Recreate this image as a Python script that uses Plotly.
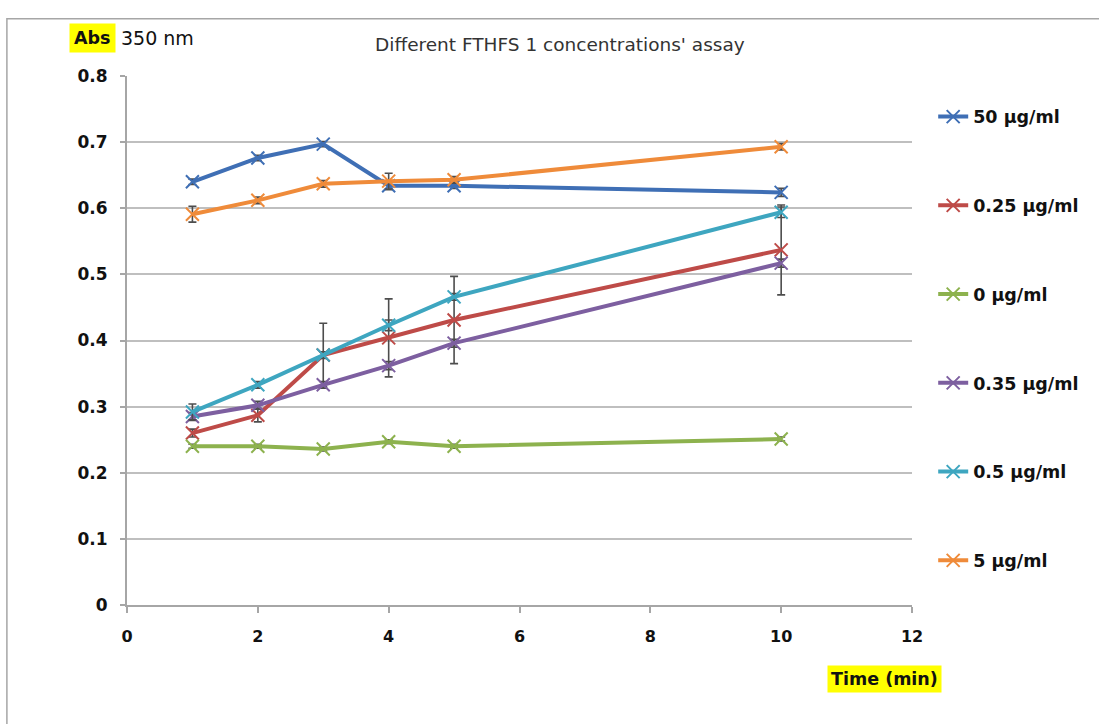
import plotly.graph_objects as go

time_min = [1, 2, 3, 4, 5, 10]

series_names = ["50 µg/ml", "0.25 µg/ml", "0 µg/ml", "0.35 µg/ml", "0.5 µg/ml", "5 µg/ml"]
abs_50 = [0.640, 0.676, 0.697, 0.634, 0.634, 0.624]
abs_025 = [0.260, 0.287, 0.378, 0.404, 0.431, 0.537]
abs_0 = [0.240, 0.240, 0.236, 0.247, 0.240, 0.251]
abs_035 = [0.285, 0.302, 0.333, 0.362, 0.396, 0.517]
abs_05 = [0.292, 0.333, 0.378, 0.423, 0.466, 0.594]
abs_5 = [0.591, 0.612, 0.637, 0.641, 0.643, 0.693]

err_50 = [0.004, 0.004, 0.004, 0.006, 0.004, 0.006]
err_025 = [0.006, 0.010, 0.048, 0.059, 0.066, 0.068]
err_0 = [0.003, 0.003, 0.003, 0.003, 0.003, 0.003]
err_035 = [0.006, 0.006, 0.005, 0.006, 0.006, 0.006]
err_05 = [0.012, 0.005, 0.005, 0.008, 0.005, 0.008]
err_5 = [0.012, 0.005, 0.005, 0.012, 0.005, 0.005]

colors = ["#3F6FB5", "#BE4B48", "#8DB24E", "#7D5FA0", "#3EA6C0", "#EF8B3A"]

y_tickvals = [0, 0.1, 0.2, 0.3, 0.4, 0.5, 0.6, 0.7, 0.8]
y_ticktext = ["0", "0.1", "0.2", "0.3", "0.4", "0.5", "0.6", "0.7", "0.8"]
x_tickvals = [0, 2, 4, 6, 8, 10, 12]

all_y = [abs_50, abs_025, abs_0, abs_035, abs_05, abs_5]
all_err = [err_50, err_025, err_0, err_035, err_05, err_5]

FONT = "DejaVu Sans"

fig = go.Figure()
for i, (name, ys, es, c) in enumerate(zip(series_names, all_y, all_err, colors)):
    fig.add_trace(go.Scatter(
        x=time_min, y=ys, name=name, mode="lines+markers",
        line=dict(color=c, width=4),
        marker=dict(symbol="x-thin-open", size=13, color=c, line=dict(color=c, width=2)),
        error_y=dict(type="data", array=es, visible=True, color="#4D4D4D", thickness=1.6, width=4),
        legendgroup=f"g{i}",
    ))

fig.update_layout(
    width=1099, height=724,
    margin=dict(l=127, r=187, t=76, b=119),
    paper_bgcolor="white", plot_bgcolor="white",
    font=dict(family=FONT, size=15, color="#111111"),
    showlegend=True,
    legend=dict(
        x=1.027, y=0.957, xanchor="left", yanchor="top",
        traceorder="grouped", tracegroupgap=63,
        font=dict(family=FONT, size=17.5, color="#111111", weight="bold"),
        bgcolor="rgba(0,0,0,0)",
    ),
    xaxis=dict(
        range=[0, 12], tickvals=x_tickvals, showgrid=False, zeroline=False,
        showline=True, linecolor="#A6A6A6", linewidth=2,
        ticks="outside", ticklen=6, tickcolor="#A6A6A6", tickwidth=2,
        ticklabelstandoff=10,
        tickfont=dict(family=FONT, size=16, weight="bold", color="#111111"),
    ),
    yaxis=dict(
        range=[0, 0.8], tickvals=y_tickvals, ticktext=y_ticktext,
        showgrid=True, gridcolor="#BFBFBF", gridwidth=2, zeroline=False,
        showline=True, linecolor="#A6A6A6", linewidth=2,
        ticks="outside", ticklen=5, tickcolor="#A6A6A6", tickwidth=2,
        ticklabelstandoff=9,
        tickfont=dict(family=FONT, size=17, weight="bold", color="#111111"),
    ),
    shapes=[dict(type="rect", xref="paper", yref="paper",
                 x0=-0.153, x1=1.25, y0=-0.23, y1=1.108,
                 line=dict(color="#A6A6A6", width=1.5), fillcolor="rgba(0,0,0,0)", layer="below")],
    annotations=[
        dict(text="<b>Abs</b>", xref="paper", yref="paper", x=(92 - 127) / 785, y=1 + (76 - 37.5) / 529,
             xanchor="center", yanchor="middle", showarrow=False, bgcolor="#FFFF00",
             font=dict(family=FONT, size=17.5, color="#111111"), borderpad=4),
        dict(text="350 nm", xref="paper", yref="paper", x=(119 - 127) / 785, y=1 + (76 - 37.5) / 529,
             xanchor="left", yanchor="middle", showarrow=False,
             font=dict(family=FONT, size=19, color="#111111")),
        dict(text="Different FTHFS 1 concentrations' assay", xref="paper", yref="paper",
             x=(560 - 127) / 785, y=1 + (76 - 44) / 529, xanchor="center", yanchor="middle", showarrow=False,
             font=dict(family=FONT, size=18.5, color="#333333")),
        dict(text="<b>Time (min)</b>", xref="paper", yref="paper", x=(884 - 127) / 785, y=-(679 - 605) / 529,
             xanchor="center", yanchor="middle", showarrow=False, bgcolor="#FFFF00",
             font=dict(family=FONT, size=17.5, color="#111111"), borderpad=3),
    ],
)

fig.write_html("out.html")
